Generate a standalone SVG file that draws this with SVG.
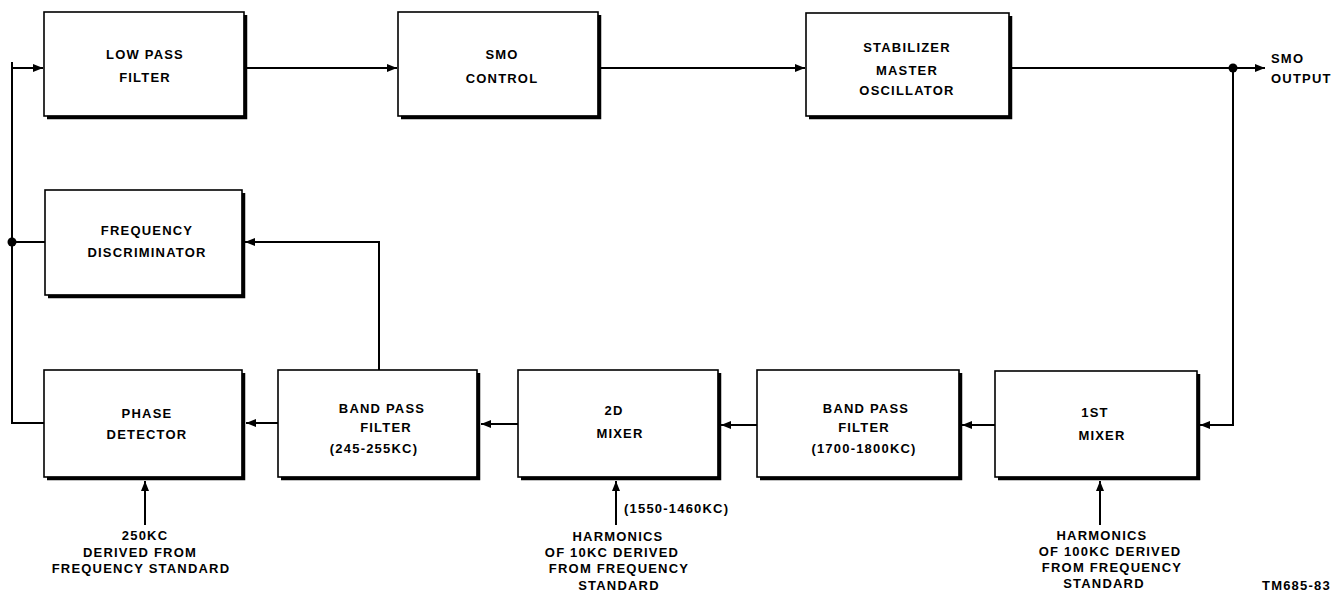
<svg xmlns="http://www.w3.org/2000/svg" width="1332" height="597" viewBox="0 0 1332 597">
<style>
  .box { fill: #fff; stroke: #000; stroke-width: 1.6; }
  .shadow { fill: none; stroke: #000; stroke-width: 3.5; stroke-linejoin: miter; }
  .wire { fill: none; stroke: #000; stroke-width: 2; }
  .lbl { font-family: "Liberation Sans", Arial, sans-serif; font-weight: bold; font-size: 13px; letter-spacing: 1.2px; fill: #000; text-anchor: middle; }
  .lft { text-anchor: start; }
  .dot { fill: #000; }
</style>
<defs>
  <marker id="arr" markerUnits="userSpaceOnUse" markerWidth="12" markerHeight="10" refX="10" refY="5" orient="auto">
    <path d="M0,1 L10,5 L0,9 Z" fill="#000"/>
  </marker>
</defs>
<rect width="1332" height="597" fill="#fff"/>

<g id="connectors">
  <line class="wire" x1="246" y1="68" x2="397" y2="68" marker-end="url(#arr)"/>
  <line class="wire" x1="600" y1="68" x2="805" y2="68" marker-end="url(#arr)"/>
  <line class="wire" x1="1011" y1="68" x2="1265" y2="68" marker-end="url(#arr)"/>
  <polyline class="wire" points="1233,68 1233,425 1200,425" marker-end="url(#arr)"/>
  <line class="wire" x1="995" y1="425" x2="962" y2="425" marker-end="url(#arr)"/>
  <line class="wire" x1="757" y1="425" x2="721" y2="425" marker-end="url(#arr)"/>
  <line class="wire" x1="518" y1="424" x2="481" y2="424" marker-end="url(#arr)"/>
  <line class="wire" x1="278" y1="423" x2="246" y2="423" marker-end="url(#arr)"/>
  <polyline class="wire" points="379,370 379,242 245,242" marker-end="url(#arr)"/>
  <polyline class="wire" points="44,423 12,423 12,68 43,68" marker-end="url(#arr)"/>
  <line class="wire" x1="12" y1="62" x2="12" y2="68"/>
  <line class="wire" x1="12" y1="242" x2="45" y2="242"/>
  <line class="wire" x1="145" y1="525" x2="145" y2="481" marker-end="url(#arr)"/>
  <line class="wire" x1="616" y1="525" x2="616" y2="481" marker-end="url(#arr)"/>
  <line class="wire" x1="1100" y1="525" x2="1100" y2="481" marker-end="url(#arr)"/>
  <circle class="dot" cx="1233" cy="68" r="4.5"/>
  <circle class="dot" cx="12" cy="242" r="4.5"/>
</g>

<g id="low-pass-filter">
  <rect class="box" x="44" y="12" width="200" height="104"/>
  <path class="shadow" d="M245.5,15 V117.5 H47"/>
  <text class="lbl" x="145" y="59">LOW PASS</text>
  <text class="lbl" x="145" y="82">FILTER</text>
</g>

<g id="smo-control">
  <rect class="box" x="398" y="12" width="200" height="104"/>
  <path class="shadow" d="M599.5,15 V117.5 H401"/>
  <text class="lbl" x="502" y="59">SMO</text>
  <text class="lbl" x="502" y="83">CONTROL</text>
</g>

<g id="stabilizer-master-oscillator">
  <rect class="box" x="806" y="13" width="203" height="103"/>
  <path class="shadow" d="M1010.5,16 V117.5 H809"/>
  <text class="lbl" x="907" y="52">STABILIZER</text>
  <text class="lbl" x="907" y="75">MASTER</text>
  <text class="lbl" x="907" y="95">OSCILLATOR</text>
</g>

<g id="smo-output">
  <text class="lbl lft" x="1271" y="63">SMO</text>
  <text class="lbl lft" x="1271" y="83">OUTPUT</text>
</g>

<g id="frequency-discriminator">
  <rect class="box" x="45" y="190" width="197" height="105"/>
  <path class="shadow" d="M243.5,193 V296.5 H48"/>
  <text class="lbl" x="147" y="235">FREQUENCY</text>
  <text class="lbl" x="147" y="257">DISCRIMINATOR</text>
</g>

<g id="phase-detector">
  <rect class="box" x="44" y="370" width="198" height="107"/>
  <path class="shadow" d="M243.5,373 V478.5 H47"/>
  <text class="lbl" x="147" y="418">PHASE</text>
  <text class="lbl" x="147" y="439">DETECTOR</text>
</g>

<g id="band-pass-filter-245">
  <rect class="box" x="278" y="370" width="199" height="107"/>
  <path class="shadow" d="M478.5,373 V478.5 H281"/>
  <text class="lbl" x="382" y="413">BAND PASS</text>
  <text class="lbl" x="386" y="432">FILTER</text>
  <text class="lbl" x="374" y="453">(245-255KC)</text>
</g>

<g id="mixer-2d">
  <rect class="box" x="518" y="370" width="200" height="107"/>
  <path class="shadow" d="M719.5,373 V478.5 H521"/>
  <text class="lbl" x="614" y="415">2D</text>
  <text class="lbl" x="620" y="438">MIXER</text>
</g>

<g id="band-pass-filter-1700">
  <rect class="box" x="757" y="370" width="202" height="107"/>
  <path class="shadow" d="M960.5,373 V478.5 H760"/>
  <text class="lbl" x="866" y="413">BAND PASS</text>
  <text class="lbl" x="864" y="432">FILTER</text>
  <text class="lbl" x="864" y="453">(1700-1800KC)</text>
</g>

<g id="mixer-1st">
  <rect class="box" x="995" y="371" width="202" height="106"/>
  <path class="shadow" d="M1198.5,374 V478.5 H998"/>
  <text class="lbl" x="1095" y="417">1ST</text>
  <text class="lbl" x="1102" y="440">MIXER</text>
</g>

<g id="input-250kc">
  <text class="lbl" x="145" y="540">250KC</text>
  <text class="lbl" x="140" y="557">DERIVED FROM</text>
  <text class="lbl" x="141" y="573">FREQUENCY STANDARD</text>
</g>

<g id="input-10kc">
  <text class="lbl lft" x="624" y="513">(1550-1460KC)</text>
  <text class="lbl" x="618" y="541">HARMONICS</text>
  <text class="lbl" x="612" y="557">OF 10KC DERIVED</text>
  <text class="lbl" x="619" y="573">FROM FREQUENCY</text>
  <text class="lbl" x="619" y="590">STANDARD</text>
</g>

<g id="input-100kc">
  <text class="lbl" x="1102" y="540">HARMONICS</text>
  <text class="lbl" x="1110" y="556">OF 100KC DERIVED</text>
  <text class="lbl" x="1112" y="572">FROM FREQUENCY</text>
  <text class="lbl" x="1104" y="588">STANDARD</text>
</g>

<text class="lbl lft" x="1262" y="590">TM685-83</text>
</svg>
